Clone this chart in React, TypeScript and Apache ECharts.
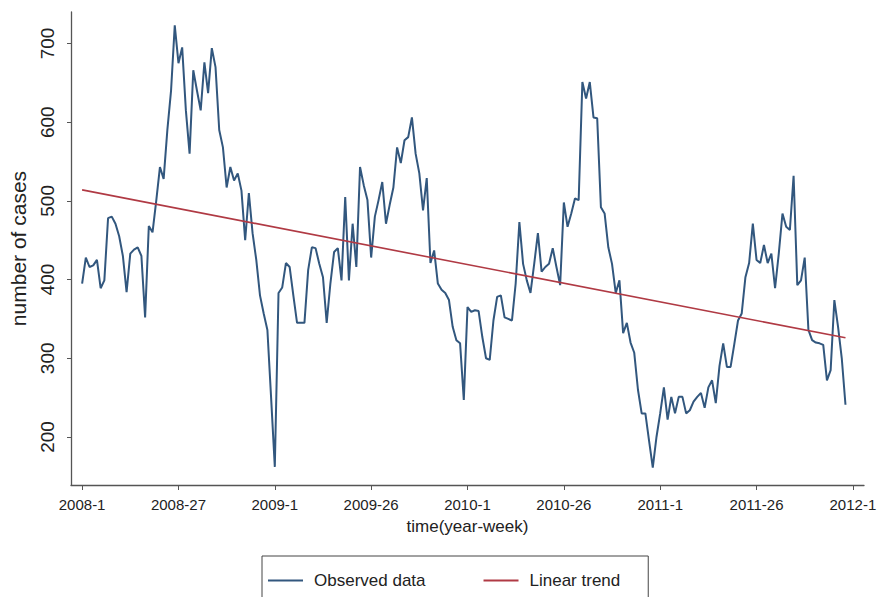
import React, { useEffect, useRef } from "react";
import * as echarts from "echarts";

// week index (0 = 2008-1) tick positions and their labels
const tickWeeks = [0, 26, 52, 78, 104, 130, 156, 182, 208];
const tickLabels = ["2008-1", "2008-27", "2009-1", "2009-26", "2010-1", "2010-26", "2011-1", "2011-26", "2012-1"];
const yTicks = [200, 300, 400, 500, 600, 700];

// observed weekly number of cases, starting at 2008-1
const observed = [
  395, 428, 416, 418, 425, 389, 399, 478, 480, 471,
  455, 430, 384, 433, 438, 441, 430, 352, 468, 460,
  500, 543, 528, 590, 640, 723, 675, 695, 615, 560,
  666, 640, 615, 676, 637, 694, 670, 590, 568, 517,
  543, 526, 535, 513, 450, 510, 459, 425, 380, 357,
  336, 250, 162, 383, 390, 421, 416, 380, 345, 345,
  345, 412, 441, 440, 420, 403, 345, 395, 435, 440,
  399, 505, 399, 471, 416, 543, 520, 501, 428, 480,
  501, 524, 471, 495, 517, 568, 548, 577, 581, 606,
  560, 535, 488, 529, 421, 437, 395, 387, 383, 374,
  340, 323, 319, 247, 365, 359, 361, 360, 327, 300,
  298, 348, 378, 380, 352, 350, 348, 395, 473, 420,
  399, 383, 420, 459, 410, 416, 420, 440, 416, 393,
  498, 467, 484, 503, 501, 651, 630, 651, 606, 605,
  492, 484, 441, 420, 383, 399, 332, 345, 320, 307,
  260, 230, 230, 195, 161, 200, 230, 263, 222, 251,
  230, 251, 251, 230, 234, 245, 251, 256, 237, 263,
  272, 243, 290, 319, 289, 289, 318, 348, 357, 403,
  421, 471, 425, 421, 444, 421, 433, 389, 433, 484,
  467, 463, 532, 393, 399, 428, 336, 323, 320, 319,
  317, 272, 285, 374, 340, 300, 241,
];

// linear trend end points [week, value]
const trendStart = [0, 514];
const trendEnd = [206, 326];

export default function App() {
  const ref = useRef<HTMLDivElement>(null);
  useEffect(() => {
    if (!ref.current) return;
    const chart = echarts.init(ref.current, null, { renderer: "svg" });
    const font = "'Liberation Sans', Arial, sans-serif";
    chart.setOption({
      animation: false,
      backgroundColor: "#ffffff",
      grid: { left: 68, right: 22, top: 12, bottom: 112, containLabel: false },
      xAxis: {
        type: "value",
        min: -3,
        max: 211,
        name: "time(year-week)",
        nameLocation: "middle",
        nameGap: 33,
        nameTextStyle: { fontFamily: font, fontSize: 17, color: "#222" },
        axisLine: { show: true, onZero: false, lineStyle: { color: "#555", width: 1.3 } },
        axisTick: { show: true, length: 5, customValues: tickWeeks, lineStyle: { color: "#555" } },
        axisLabel: {
          customValues: tickWeeks,
          margin: 12,
          fontFamily: font,
          fontSize: 15,
          color: "#222",
          formatter: (v: number) => tickLabels[tickWeeks.indexOf(v)] ?? "",
        },
        splitLine: { show: false },
      },
      yAxis: {
        type: "value",
        min: 139,
        max: 740,
        name: "number of cases",
        nameLocation: "middle",
        nameGap: 42,
        nameRotate: 90,
        nameTextStyle: { fontFamily: font, fontSize: 21, color: "#222" },
        axisLine: { show: true, onZero: false, lineStyle: { color: "#555", width: 1.3 } },
        axisTick: { show: true, length: 4, customValues: yTicks, lineStyle: { color: "#555" } },
        axisLabel: {
          customValues: yTicks,
          rotate: 90,
          margin: 14,
          fontFamily: font,
          fontSize: 19,
          color: "#222",
        },
        splitLine: { show: false },
      },
      legend: {
        left: 262,
        top: 556,
        padding: [16, 28, 22, 6],
        itemGap: 58,
        itemWidth: 35,
        itemHeight: 2,
        icon: "rect",
        borderColor: "#444",
        borderWidth: 1,
        textStyle: { fontFamily: font, fontSize: 17, color: "#222", padding: [0, 0, 0, 6] },
        data: ["Observed data", "Linear trend"],
      },
      series: [
        {
          name: "Observed data",
          type: "line",
          symbol: "none",
          data: observed.map((v, i) => [i, v]),
          lineStyle: { color: "#32577e", width: 2 },
          itemStyle: { color: "#32577e" },
          z: 2,
        },
        {
          name: "Linear trend",
          type: "line",
          symbol: "none",
          data: [trendStart, trendEnd],
          lineStyle: { color: "#b03a44", width: 1.6 },
          itemStyle: { color: "#b03a44" },
          z: 3,
        },
      ],
    });
    return () => chart.dispose();
  }, []);
  return <div ref={ref} style={{ position: "fixed", left: 0, top: 0, width: 886, height: 597 }} />;
}
